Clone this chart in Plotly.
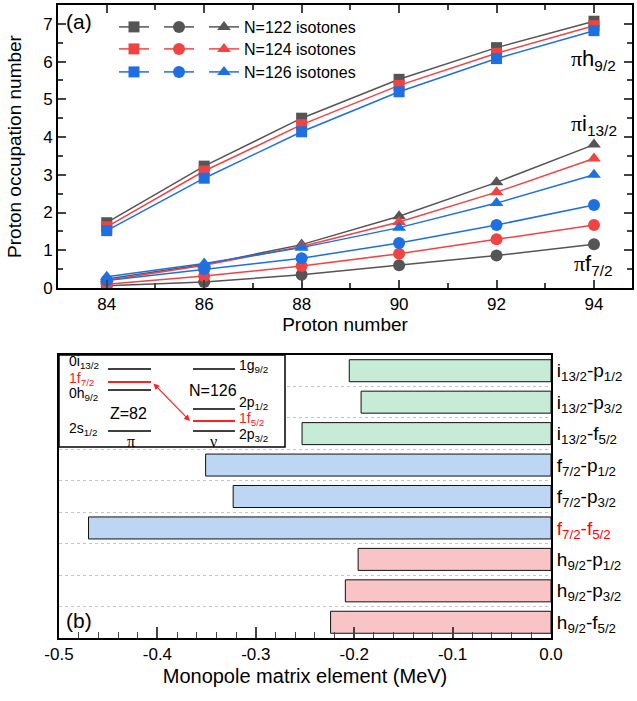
import plotly.graph_objects as go

# ---------------- data: panel (a) ----------------
Z = [84, 86, 88, 90, 92, 94]
h92_N122 = [1.73, 3.23, 4.50, 5.53, 6.37, 7.07]
h92_N124 = [1.62, 3.10, 4.33, 5.37, 6.22, 6.95]
h92_N126 = [1.52, 2.91, 4.14, 5.20, 6.08, 6.82]
f72_N122 = [0.06, 0.16, 0.35, 0.60, 0.86, 1.16]
f72_N124 = [0.10, 0.32, 0.58, 0.91, 1.29, 1.67]
f72_N126 = [0.20, 0.50, 0.79, 1.19, 1.67, 2.20]
i132_N122 = [0.24, 0.62, 1.15, 1.90, 2.80, 3.80]
i132_N124 = [0.20, 0.60, 1.10, 1.75, 2.54, 3.43]
i132_N126 = [0.30, 0.65, 1.07, 1.60, 2.25, 3.00]
Z_TICKS = [84, 86, 88, 90, 92, 94]

# ---------------- data: panel (b) ----------------
pair_labels = [
    "i<sub>13/2</sub>-p<sub>1/2</sub>",
    "i<sub>13/2</sub>-p<sub>3/2</sub>",
    "i<sub>13/2</sub>-f<sub>5/2</sub>",
    "f<sub>7/2</sub>-p<sub>1/2</sub>",
    "f<sub>7/2</sub>-p<sub>3/2</sub>",
    "<span style='color:#ff0000'>f<sub>7/2</sub>-f<sub>5/2</sub></span>",
    "h<sub>9/2</sub>-p<sub>1/2</sub>",
    "h<sub>9/2</sub>-p<sub>3/2</sub>",
    "h<sub>9/2</sub>-f<sub>5/2</sub>",
]
monopole = [-0.205, -0.193, -0.253, -0.351, -0.323, -0.470, -0.196, -0.209, -0.224]
bar_colors = ["#C6EBD7"] * 3 + ["#BDD6F4"] * 3 + ["#F9C4C5"] * 3
MONO_TICKS = [-0.5, -0.4, -0.3, -0.2, -0.1, 0.0]
MONO_TICKTEXT = ["-0.5", "-0.4", "-0.3", "-0.2", "-0.1", "0.0"]

W, H = 637, 701
def px(x):
    return x / W
def py(y):
    return 1 - y / H

FONT = "Liberation Sans, Arial, sans-serif"
GRAY, RED, BLUE = "#555555", "#F04444", "#1E6FE0"

fig = go.Figure()

series = [
    ("legend", GRAY, "N=122 isotones", h92_N122, f72_N122, i132_N122),
    ("legend2", RED, "N=124 isotones", h92_N124, f72_N124, i132_N124),
    ("legend3", BLUE, "N=126 isotones", h92_N126, f72_N126, i132_N126),
]
for leg, col, name, h, f, i in series:
    for vals, sym, nm, sz in [(h, "square", "", 11), (f, "circle", "", 12), (i, "triangle-up", name, 12)]:
        fig.add_trace(go.Scatter(
            x=Z, y=vals, mode="lines+markers", name=nm, legend=leg,
            line=dict(color=col, width=1.5),
            marker=dict(symbol=sym, size=sz, color=col),
            xaxis="x", yaxis="y", showlegend=True,
        ))

fig.add_trace(go.Bar(
    x=monopole, y=list(range(len(monopole))), orientation="h",
    marker=dict(color=bar_colors, line=dict(color="#111111", width=1)),
    width=0.7, xaxis="x2", yaxis="y2", showlegend=False,
))

axis_common = dict(showline=True, linecolor="black", linewidth=2, zeroline=False,
                   showgrid=False, automargin=False)

legend_common = dict(orientation="h", xanchor="left", yanchor="middle",
                     bgcolor="rgba(0,0,0,0)", borderwidth=0,
                     font=dict(family=FONT, size=16, color="black"),
                     itemwidth=30)

fig.update_layout(
    width=W, height=H, margin=dict(l=0, r=0, t=0, b=0),
    paper_bgcolor="white", plot_bgcolor="white",
    font=dict(family=FONT, color="black"),
    legend=dict(x=px(114), y=py(27), **legend_common),
    legend2=dict(x=px(114), y=py(49), **legend_common),
    legend3=dict(x=px(114), y=py(72), **legend_common),
    xaxis=dict(domain=[px(58), px(632)], range=[83, 94.78], anchor="y",
               tickvals=Z_TICKS, ticks="inside", ticklen=8, tickwidth=1.5, mirror="ticks",
               minor=dict(dtick=1, tick0=83, ticks="inside", ticklen=5, tickwidth=1.5),
               tickfont=dict(family=FONT, size=17, color="black"),
               title=dict(text="Proton number", font=dict(family=FONT, size=19), standoff=4),
               **axis_common),
    yaxis=dict(domain=[py(288), py(5)], range=[0, 7.5], anchor="x",
               dtick=1, ticks="inside", ticklen=8, tickwidth=1.5, mirror="ticks",
               minor=dict(dtick=0.5, ticks="inside", ticklen=5, tickwidth=1.5),
               tickfont=dict(family=FONT, size=17, color="black"),
               title=dict(text="Proton occupation number", font=dict(family=FONT, size=19), standoff=16),
               **axis_common),
    xaxis2=dict(domain=[px(59), px(551)], range=[-0.5, 0], anchor="y2",
                tickvals=MONO_TICKS, ticktext=MONO_TICKTEXT,
                ticks="inside", ticklen=11, tickwidth=1.5, mirror=True,
                minor=dict(dtick=0.02, tick0=0, ticks="inside", ticklen=6, tickwidth=1.2),
                tickfont=dict(family=FONT, size=17, color="black"),
                title=dict(text="Monopole matrix element (MeV)", font=dict(family=FONT, size=20), standoff=6),
                **axis_common),
    yaxis2=dict(domain=[py(638), py(355)], range=[8.5, -0.5], anchor="x2", side="right",
                tickvals=list(range(len(pair_labels))), ticktext=pair_labels,
                ticks="", mirror=True, ticklabelstandoff=0,
                minor=dict(tickmode="linear", tick0=0.5, dtick=1, showgrid=True,
                           griddash="dot", gridcolor="#C4C4C4", gridwidth=1, ticks=""),
                tickfont=dict(family=FONT, size=19, color="black"),
                **axis_common),
)

SERIF = "Liberation Serif, Times New Roman, serif"
ann = []
def pilabel(sub_main, sub, y):
    return dict(x=94, y=y, xref="x", yref="y", showarrow=False,
                text=f"<span style=\"font-family:'Liberation Serif'\">π</span>{sub_main}<sub>{sub}</sub>",
                font=dict(family=FONT, size=22, color="black"), xanchor="center", yanchor="middle")
ann.append(pilabel("h", "9/2", 6.05))
ann.append(pilabel("i", "13/2", 4.32))
ann.append(pilabel("f", "7/2", 0.62))
ann.append(dict(x=px(64), y=py(21), xref="paper", yref="paper", showarrow=False, text="(a)",
                font=dict(family=FONT, size=21), xanchor="left", yanchor="middle"))
ann.append(dict(x=px(64), y=py(620), xref="paper", yref="paper", showarrow=False, text="(b)",
                font=dict(family=FONT, size=21), xanchor="left", yanchor="middle"))

# ---------------- inset level scheme ----------------
shapes = []
shapes.append(dict(type="rect", xref="paper", yref="paper", x0=px(59), x1=px(285), y0=py(447), y1=py(355),
                   fillcolor="white", line=dict(color="black", width=1.5), layer="above"))
def level(x0, x1, y, col="black"):
    shapes.append(dict(type="line", xref="paper", yref="paper", x0=px(x0), x1=px(x1), y0=py(y), y1=py(y),
                       line=dict(color=col, width=1.5 if col == "black" else 2), layer="above"))
for y, col in [(369, "black"), (382, "#FF2020"), (390, "black"), (431, "black")]:
    level(108, 151, y, col)
for y, col in [(369, "black"), (409, "black"), (421, "#FF2020"), (431, "black")]:
    level(193, 235, y, col)

def itext(x, y, t, col="black", anchor="left", size=14):
    ann.append(dict(x=px(x), y=py(y), xref="paper", yref="paper", showarrow=False, text=t,
                    font=dict(family=FONT, size=size, color=col), xanchor=anchor, yanchor="middle"))
itext(67, 362, "0i<sub>13/2</sub>")
itext(67, 379, "1f<sub>7/2</sub>", "#FF2020")
itext(67, 394, "0h<sub>9/2</sub>")
itext(67, 429, "2s<sub>1/2</sub>")
itext(237, 366, "1g<sub>9/2</sub>")
itext(237, 403, "2p<sub>1/2</sub>")
itext(237, 419, "1f<sub>5/2</sub>", "#FF2020")
itext(237, 435, "2p<sub>3/2</sub>")
itext(128, 413, "Z=82", anchor="center", size=16)
itext(213, 390, "N=126", anchor="center", size=16)
ann.append(dict(x=px(131), y=py(441), xref="paper", yref="paper", showarrow=False, text="π",
                font=dict(family=SERIF, size=16), xanchor="center", yanchor="middle"))
ann.append(dict(x=px(213), y=py(441), xref="paper", yref="paper", showarrow=False, text="ν",
                font=dict(family=SERIF, size=16), xanchor="center", yanchor="middle"))
ann.append(dict(x=px(190), y=py(421), ax=-38, ay=-39, xref="paper", yref="paper",
                axref="pixel", ayref="pixel", showarrow=True, arrowhead=2, startarrowhead=2,
                arrowside="end+start", arrowsize=1, arrowwidth=1.2, arrowcolor="#FF2020", text=""))

fig.update_layout(annotations=ann, shapes=shapes)
fig.write_html("out.html", config={"displayModeBar": False},
               post_script="document.body.style.margin='0';document.body.style.overflow='hidden';")
